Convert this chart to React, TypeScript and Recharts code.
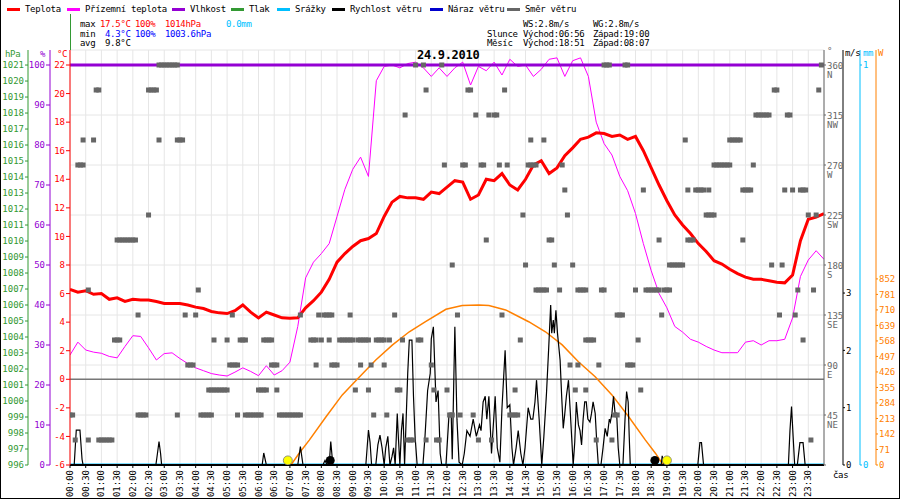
import { ComposedChart, Line, Scatter, XAxis, YAxis, CartesianGrid, ReferenceLine } from "recharts";

const mono = "'DejaVu Sans Mono', monospace";

// 15 minute steps over the day (minutes)
const quarterHours = Array.from({ length: 97 }, (_, i) => i * 15);

const temperature = [
  6.3, 6.1, 6.2, 5.95, 6.0, 5.6, 5.7, 5.45, 5.6, 5.55,
  5.55, 5.45, 5.3, 5.3, 5.3, 5.2, 5.05, 4.95, 4.75, 4.65,
  4.6, 4.8, 5.2, 4.7, 4.3, 4.7, 4.5, 4.3, 4.27, 4.3,
  5.0, 5.5, 6.1, 7.0, 8.2, 8.8, 9.3, 9.7, 9.85, 10.2,
  11.4, 12.4, 12.8, 12.7, 12.7, 12.6, 13.1, 13.0, 13.45, 13.9,
  13.8, 12.6, 12.9, 14.0, 13.9, 14.4, 13.6, 13.25, 14.0, 15.0,
  15.3, 14.4, 14.8, 15.65, 16.2, 16.8, 16.95, 17.25, 17.2, 17.0,
  17.1, 16.8, 17.0, 16.0, 14.8, 13.6, 12.5, 11.5, 10.8, 10.2,
  9.5, 8.95, 8.3, 8.07, 7.7, 7.4, 7.15, 7.0, 7.0, 6.9,
  6.8, 6.75, 7.3, 9.7, 11.2, 11.35, 11.6,
];

const groundTemp = [
  1.7, 2.6, 2.05, 1.9, 1.82, 1.6, 1.5, 2.3, 3.05, 3.0,
  2.2, 1.35, 1.8, 1.85, 1.45, 1.1, 0.8, 0.6, 0.4, 0.3,
  0.23, 0.5, 0.8, 0.55, 0.25, 0.95, 0.3, 0.6, 1.2, 3.7,
  7.1, 8.2, 8.8, 9.5, 11.4, 13.3, 14.7, 15.55, 14.2, 20.9,
  21.9, 22.0, 21.8, 22.1, 22.2, 21.8, 21.2, 21.8, 21.2, 21.8,
  22.2, 20.6, 21.9, 21.6, 22.2, 21.3, 22.4, 21.9, 22.0, 21.2,
  21.7, 22.4, 22.5, 21.2, 22.3, 22.5, 21.2, 18.0, 16.5, 15.7,
  14.2, 13.2, 11.6, 9.5, 7.6, 6.0, 5.0, 3.7, 3.3, 2.8,
  2.6, 2.3, 2.05, 1.86, 1.86, 1.86, 2.6, 2.7, 2.4, 2.7,
  2.7, 2.8, 4.3, 7.2, 8.35, 9.0, 8.4,
];

const humidityTimes = [0, 1440];
const humidity = [100, 100];

const rainTimes = [0, 1440];
const rain = [0, 0];

// [minute, m/s]
const windSpeed: [number, number][] = [
  [0, 0], [8, 0], [12, 0.61], [19, 0.61], [23, 0.1], [25, 0],
  [164, 0], [167, 0.2], [170, 0.41], [173, 0.2], [175, 0],
  [367, 0], [370, 0.21], [375, 0],
  [435, 0], [440, 0.32], [445, 0],
  [483, 0], [487, 0.08], [491, 0], [495, 0], [498, 0.41], [502, 0],
  [565, 0], [570, 0.61], [573, 0.4], [576, 0], [584, 0], [588, 0.35], [592, 0.52], [596, 0.3],
  [600, 0], [603, 0.3], [607, 0.5], [611, 0], [615, 0.15], [618, 0.3], [621, 0], [625, 0.9],
  [627, 0.5], [630, 0], [633, 0.6], [636, 0.9], [639, 0], [642, 0.8], [645, 1.6], [648, 2.18],
  [653, 2.18], [656, 1.2], [659, 0.5], [663, 0], [674, 0], [678, 0.5], [683, 1.3], [688, 1.6],
  [690, 2.2], [694, 2.41], [699, 1.1], [703, 1.3], [707, 0.2], [710, 0], [718, 0], [724, 0.9],
  [728, 0.9], [730, 0.1], [735, 2.41], [739, 0.8], [743, 0.05], [749, 0], [753, 0.2], [758, 0.6],
  [764, 0.5], [770, 0.8], [776, 0.5], [782, 0.7], [785, 0.6], [789, 1.1], [793, 1.2], [796, 0.8],
  [800, 1.2], [805, 0.2], [812, 1.2], [816, 0.3], [821, 0.05], [825, 1.0], [831, 2.0], [835, 1.0],
  [840, 1.05], [844, 0.3], [847, 0], [852, 0.3], [856, 0.6], [861, 0.2], [865, 0], [869, 0.3],
  [875, 1.0], [880, 0.8], [884, 0.8], [888, 1.1], [891, 1.48], [896, 0.8], [901, 0], [905, 0.5],
  [910, 1.25], [914, 2.0], [918, 2.79], [920, 2.3], [923, 2.53], [925, 2.3], [928, 2.7], [931, 2.3],
  [936, 1.83], [939, 1.2], [942, 0.64], [945, 0.9], [948, 1.2], [952, 1.48], [955, 1.0], [958, 0.5],
  [961, 0], [964, 0.4], [967, 1.1], [971, 0.7], [974, 0.6], [977, 0.35], [980, 0.8], [983, 1.1],
  [986, 1.1], [989, 0.8], [993, 0.75], [996, 0.9], [999, 1.1], [1003, 0.9], [1006, 0.4], [1009, 0],
  [1014, 0], [1018, 0.3], [1022, 0.64], [1026, 0.5], [1030, 0.8], [1032, 0.75], [1035, 0.9],
  [1038, 1.2], [1041, 0.9], [1044, 0.9], [1047, 0.3], [1050, 0], [1056, 0], [1060, 0.8],
  [1063, 1.28], [1066, 1.1], [1068, 0.5], [1070, 0],
  [1129, 0], [1131, 0.16], [1134, 0],
  [1199, 0], [1203, 0.39], [1206, 0.39], [1210, 0],
  [1372, 0], [1375, 0.6], [1378, 1.02], [1381, 0.5], [1384, 0],
  [1389, 0], [1394, 0.39], [1400, 0.39], [1404, 0], [1440, 0],
];

// [minute, W]
const solar: [number, number][] = [
  [422, 0], [438, 55], [457, 114], [489, 221], [520, 321], [549, 394], [584, 481], [616, 550],
  [648, 610], [679, 656], [718, 713], [749, 730], [781, 733], [800, 730], [832, 710], [876, 656],
  [908, 610], [940, 550], [971, 473], [1003, 404], [1035, 321], [1067, 221], [1099, 114],
  [1118, 54], [1133, 0],
];

// wind direction runs: [from minute, to minute, degrees], 5 minute samples
const windDirRuns: [number, number, number][] = [
  [0, 5, 45], [10, 10, 22.5], [15, 25, 270], [25, 25, 292.5], [35, 35, 22.5], [35, 35, 157.5],
  [45, 45, 292.5], [50, 55, 337.5], [55, 80, 22.5], [85, 95, 112.5], [90, 125, 202.5],
  [130, 130, 135], [130, 145, 45], [150, 150, 225], [150, 165, 337.5], [170, 170, 292.5],
  [170, 205, 360], [205, 205, 45], [205, 215, 292.5], [220, 220, 135], [225, 235, 90],
  [240, 240, 135], [245, 245, 157.5], [250, 270, 45], [265, 300, 67.5], [275, 275, 112.5],
  [300, 300, 112.5], [305, 320, 90], [310, 310, 135], [320, 320, 45], [325, 335, 112.5],
  [335, 365, 45], [360, 375, 67.5], [370, 385, 112.5], [385, 395, 90], [395, 395, 67.5],
  [400, 440, 45], [440, 440, 135], [460, 470, 112.5], [470, 470, 90], [475, 475, 135],
  [480, 480, 112.5], [485, 500, 135], [495, 495, 112.5], [500, 510, 90], [515, 540, 112.5],
  [535, 535, 135], [545, 545, 67.5], [550, 570, 112.5], [555, 555, 90], [570, 570, 67.5],
  [575, 575, 90], [580, 580, 45], [585, 600, 112.5], [600, 600, 90], [605, 605, 45],
  [610, 610, 112.5], [620, 620, 135], [625, 630, 67.5], [635, 635, 112.5], [640, 640, 315],
  [645, 655, 22.5], [660, 660, 360], [665, 670, 112.5], [675, 675, 360], [680, 680, 337.5],
  [680, 680, 22.5], [690, 690, 90], [695, 695, 67.5], [700, 705, 22.5], [710, 710, 360],
  [715, 715, 270], [720, 720, 67.5], [725, 730, 45], [730, 730, 180], [740, 740, 135],
  [745, 745, 45], [750, 755, 270], [760, 765, 337.5], [770, 770, 45], [775, 775, 315],
  [780, 780, 22.5], [785, 790, 270], [795, 795, 202.5], [800, 800, 315], [805, 805, 22.5],
  [810, 815, 315], [820, 820, 270], [825, 825, 135], [830, 830, 337.5], [835, 835, 270],
  [840, 850, 45], [850, 850, 67.5], [855, 855, 45], [860, 860, 112.5], [865, 865, 225],
  [870, 870, 180], [875, 890, 270], [880, 880, 292.5], [890, 905, 157.5], [905, 905, 292.5],
  [910, 910, 157.5], [915, 920, 202.5], [925, 925, 180], [935, 935, 157.5], [940, 940, 270],
  [945, 945, 247.5], [950, 950, 225], [955, 955, 90], [960, 960, 180], [965, 965, 67.5],
  [970, 970, 90], [970, 985, 157.5], [985, 985, 67.5], [985, 1000, 112.5], [1005, 1005, 22.5],
  [1010, 1010, 90], [1015, 1020, 157.5], [1020, 1030, 360], [1035, 1035, 22.5], [1040, 1045, 45],
  [1045, 1055, 135], [1060, 1065, 360], [1065, 1075, 90], [1080, 1080, 157.5], [1085, 1085, 112.5],
  [1090, 1090, 67.5], [1095, 1095, 247.5], [1100, 1125, 157.5], [1125, 1125, 202.5],
  [1130, 1130, 135], [1135, 1145, 157.5], [1145, 1170, 180], [1175, 1175, 292.5],
  [1180, 1180, 247.5], [1180, 1190, 202.5], [1195, 1210, 247.5], [1215, 1230, 225],
  [1220, 1220, 247.5], [1230, 1260, 270], [1260, 1280, 292.5], [1285, 1285, 202.5],
  [1285, 1300, 247.5], [1305, 1305, 270], [1310, 1335, 315], [1340, 1340, 180],
  [1345, 1350, 337.5], [1355, 1355, 135], [1360, 1360, 180], [1365, 1365, 247.5],
  [1370, 1375, 315], [1380, 1380, 247.5], [1385, 1385, 135], [1390, 1390, 157.5],
  [1395, 1405, 247.5], [1400, 1400, 112.5], [1410, 1410, 225], [1415, 1415, 22.5],
  [1420, 1420, 157.5], [1425, 1425, 225], [1430, 1430, 337.5], [1435, 1435, 360],
];

const sunMarks = [416, 1140];
const moonMarks = [497, 1117];

const timeTicks = Array.from({ length: 48 }, (_, i) => i * 30);
const tempTicks = [-6, -4, -2, 0, 2, 4, 6, 8, 10, 12, 14, 16, 18, 20, 22];
const humTicks = [0, 10, 20, 30, 40, 50, 60, 70, 80, 90, 100];
const pressTicks = [996, 997, 998, 999, 1000, 1001, 1002, 1003, 1004, 1005, 1006, 1007, 1008,
  1009, 1010, 1011, 1012, 1013, 1014, 1015, 1016, 1017, 1018, 1019, 1020, 1021];
const dirTicks = [0, 45, 90, 135, 180, 225, 270, 315, 360];
const dirNames = ["", "NE", "E", "SE", "S", "SW", "W", "NW", "N"];
const wsTicks = [0, 1, 2, 3];
const mmTicks = [0, 1];
const wTicks = [0, 71, 142, 213, 284, 355, 426, 497, 568, 639, 710, 781, 852];

const RED = "#ff0000";
const MAGENTA = "#ff00ff";
const PURPLE = "#9400d3";
const GREEN = "#339933";
const SKY = "#00bfff";
const NAVY = "#0000cd";
const GRAY = "#666666";
const ORANGE = "#ff8000";

const tempData = quarterHours.map((t, i) => ({ t, temp: temperature[i], ground: groundTemp[i] }));
const humData = humidityTimes.map((t, i) => ({ t, hum: humidity[i] }));
const rainData = rainTimes.map((t, i) => ({ t, rain: rain[i] }));
const windData = windSpeed.map(([t, v]) => ({ t, ws: v }));
const solarData = solar.map(([t, w]) => ({ t, w }));
const dirData = windDirRuns.flatMap(([a, b, d]) => {
  const pts: { t: number; dir: number }[] = [];
  for (let t = a; t <= b; t += 5) pts.push({ t, dir: d });
  return pts;
});
const markLevel = 0.08;
const sunData = sunMarks.map((t) => ({ t, mark: markLevel }));
const moonData = moonMarks.map((t) => ({ t, mark: markLevel }));

const legendItems = [
  { name: "Teplota", color: RED, x: 7 },
  { name: "Přízemní teplota", color: MAGENTA, x: 67 },
  { name: "Vlhkost", color: PURPLE, x: 172 },
  { name: "Tlak", color: GREEN, x: 231 },
  { name: "Srážky", color: SKY, x: 277 },
  { name: "Rychlost větru", color: "#000", x: 332 },
  { name: "Náraz větru", color: NAVY, x: 430 },
  { name: "Směr větru", color: GRAY, x: 507 },
];

const pad2 = (n: number) => String(n).padStart(2, "0");

function TimeTick(props: any) {
  const { x, y, payload } = props;
  const label = `${pad2(Math.floor(payload.value / 60))}:${pad2(payload.value % 60)}`;
  return (
    <text x={x} y={y} transform={`rotate(-90 ${x} ${y})`} textAnchor="end"
      dominantBaseline="central" fontSize={9} fontFamily={mono} fill="#000">
      {label}
    </text>
  );
}

function DirTick(props: any) {
  const { x, y, payload } = props;
  const i = dirTicks.indexOf(payload.value);
  if (i <= 0) return null;
  return (
    <g fontSize={9} fontFamily={mono} fill={GRAY}>
      <text x={x} y={y + 3.5}>{payload.value}</text>
      <text x={x} y={y + 12.5}>{dirNames[i]}</text>
    </g>
  );
}

const Square = (p: any) => <rect x={p.cx - 2.5} y={p.cy - 2.5} width={5} height={5} fill={GRAY} />;
const SunDot = (p: any) => <circle cx={p.cx} cy={p.cy} r={4.5} fill="#ffff00" stroke="#777" strokeWidth={0.8} />;
const MoonDot = (p: any) => <circle cx={p.cx} cy={p.cy} r={4.5} fill="#000" />;

function Tx({ x, y, color = "#000", children, bold, size = 9 }: any) {
  return (
    <div style={{ position: "absolute", left: x, top: y, color, fontFamily: mono, fontSize: size,
      lineHeight: "10px", whiteSpace: "pre", fontWeight: bold ? "bold" : "normal", letterSpacing: "-0.3px" }}>
      {children}
    </div>
  );
}

const tickFont = (fill: string) => ({ fill, fontSize: 9, fontFamily: mono });

export default function App() {
  return (
    <div style={{ position: "absolute", left: 0, top: 0, width: 900, height: 500, background: "#fff", overflow: "hidden" }}>
      <ComposedChart width={900} height={500} margin={{ top: 50, right: 0, bottom: 0, left: 0 }}>
        <XAxis dataKey="t" type="number" domain={[0, 1440]} ticks={timeTicks} interval={0}
          height={35} tick={<TimeTick />} tickSize={3} tickMargin={2}
          axisLine={{ stroke: "#000", strokeWidth: 2 }} tickLine={{ stroke: "#000" }} allowDataOverflow />
        <YAxis yAxisId="a_temp" orientation="left" type="number" domain={[-6, 23.05]} ticks={tempTicks}
          interval={0} width={20} tickSize={4} tickMargin={1} stroke={RED} tick={tickFont(RED)} allowDataOverflow />
        <YAxis yAxisId="b_hum" orientation="left" type="number" domain={[0, 103.75]} ticks={humTicks}
          interval={0} width={22} tickSize={4} tickMargin={1} stroke={PURPLE} tick={tickFont(PURPLE)} allowDataOverflow />
        <YAxis yAxisId="c_press" orientation="left" type="number" domain={[996, 1021.94]} ticks={pressTicks}
          interval={0} width={28} tickSize={3} tickMargin={1} stroke={GREEN} tick={tickFont(GREEN)} allowDataOverflow />
        <YAxis yAxisId="a_dir" orientation="right" type="number" domain={[0, 373.5]} ticks={dirTicks}
          interval={0} width={19} tickSize={2} tickMargin={1} stroke={GRAY} tick={<DirTick />} allowDataOverflow />
        <YAxis yAxisId="b_ws" orientation="right" type="number" domain={[0, 7.24]} ticks={wsTicks}
          interval={0} width={17} tickSize={2} tickMargin={1} stroke="#000" tick={tickFont("#000")} allowDataOverflow />
        <YAxis yAxisId="c_mm" orientation="right" type="number" domain={[0, 1.0375]} ticks={mmTicks}
          interval={0} width={16} tickSize={2} tickMargin={1} stroke={SKY} tick={tickFont(SKY)} allowDataOverflow />
        <YAxis yAxisId="d_w" orientation="right" type="number" domain={[0, 1900]} ticks={wTicks}
          interval={0} width={24} tickSize={2} tickMargin={1} stroke={ORANGE} tick={tickFont(ORANGE)} allowDataOverflow />

        <CartesianGrid yAxisId="a_dir" stroke="#e6e6e6" strokeWidth={1} />
        <ReferenceLine yAxisId="a_temp" y={0} stroke="#777" strokeWidth={1.5} />

        <Line data={rainData} yAxisId="c_mm" dataKey="rain" stroke={SKY} strokeWidth={3} dot={false} isAnimationActive={false} />
        <Line data={solarData} yAxisId="d_w" dataKey="w" stroke={ORANGE} strokeWidth={1.5} dot={false} isAnimationActive={false} />
        <Line data={windData} yAxisId="b_ws" dataKey="ws" stroke="#000" strokeWidth={1.2} dot={false} isAnimationActive={false} />
        <Line data={tempData} yAxisId="a_temp" dataKey="ground" stroke={MAGENTA} strokeWidth={1} dot={false} isAnimationActive={false} />
        <Line data={tempData} yAxisId="a_temp" dataKey="temp" stroke={RED} strokeWidth={3} dot={false} isAnimationActive={false} />
        <Line data={humData} yAxisId="b_hum" dataKey="hum" stroke={PURPLE} strokeWidth={3} dot={false} isAnimationActive={false} />
        <Scatter data={dirData} yAxisId="a_dir" dataKey="dir" shape={Square} isAnimationActive={false} />
        <Scatter data={sunData} yAxisId="b_ws" dataKey="mark" shape={SunDot} isAnimationActive={false} />
        <Scatter data={moonData} yAxisId="b_ws" dataKey="mark" shape={MoonDot} isAnimationActive={false} />
      </ComposedChart>

      {legendItems.map((it) => (
        <div key={it.name}>
          <div style={{ position: "absolute", left: it.x, top: 8, width: 13, height: 3, background: it.color }} />
          <Tx x={it.x + 18} y={4}>{it.name}</Tx>
        </div>
      ))}

      <Tx x={80} y={19}>max</Tx>
      <Tx x={100} y={19} color={RED}>17.5°C</Tx>
      <Tx x={135} y={19} color={RED}>100%</Tx>
      <Tx x={165} y={19} color={RED}>1014hPa</Tx>
      <Tx x={226} y={19} color={SKY}>0.0mm</Tx>
      <Tx x={80} y={29}>min</Tx>
      <Tx x={105} y={29} color="#0000ff">4.3°C</Tx>
      <Tx x={135} y={29} color="#0000ff">100%</Tx>
      <Tx x={165} y={29} color="#0000ff">1003.6hPa</Tx>
      <Tx x={80} y={38}>avg</Tx>
      <Tx x={105} y={38}>9.8°C</Tx>

      <Tx x={523} y={19}>WS:2.8m/s</Tx>
      <Tx x={593} y={19}>WG:2.8m/s</Tx>
      <Tx x={487} y={29}>Slunce</Tx>
      <Tx x={523} y={29}>Východ:06:56</Tx>
      <Tx x={593} y={29}>Západ:19:00</Tx>
      <Tx x={487} y={38}>Měsíc</Tx>
      <Tx x={523} y={38}>Východ:18:51</Tx>
      <Tx x={593} y={38}>Západ:08:07</Tx>

      <Tx x={417} y={50} size={12} bold>24.9.2010</Tx>

      <Tx x={5} y={49} color={GREEN}>hPa</Tx>
      <Tx x={40} y={49} color={PURPLE}>%</Tx>
      <Tx x={57} y={49} color={RED}>°C</Tx>
      <Tx x={827} y={46} color={GRAY}>°</Tx>
      <Tx x={845} y={48}>m/s</Tx>
      <Tx x={863} y={48} color={SKY}>mm</Tx>
      <Tx x={878} y={48} color={ORANGE}>W</Tx>
      <Tx x={833} y={470}>čas</Tx>

      <div style={{ position: "absolute", left: 70, top: 14, width: 1, height: 36, background: GREEN }} />
      <div style={{ position: "absolute", left: 0, top: 0, width: 898, height: 498, borderLeft: "1px solid #000",
        borderRight: "1px solid #000", borderBottom: "1px solid #000" }} />
    </div>
  );
}
